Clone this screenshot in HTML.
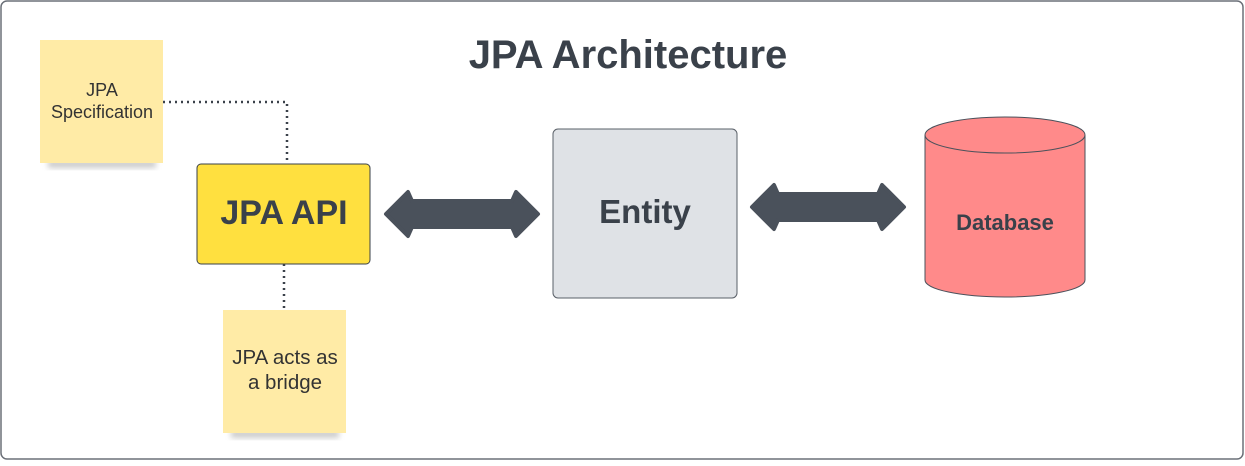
<!DOCTYPE html>
<html><head><style>
body{margin:0;background:#fff;width:1245px;height:461px;overflow:hidden;font-family:"Liberation Sans",sans-serif}
</style></head><body>
<svg width="1245" height="461" viewBox="0 0 1245 461" xmlns="http://www.w3.org/2000/svg" font-family="Liberation Sans, sans-serif">
<defs>
<filter id="sh" x="-20%" y="-20%" width="140%" height="150%"><feGaussianBlur stdDeviation="3"/></filter>
</defs>
<rect x="1" y="1" width="1242" height="458" rx="6" fill="#fff" stroke="#6b7078" stroke-width="1.5"/>
<text x="628" y="68" text-anchor="middle" font-size="40" font-weight="bold" fill="#3a414a">JPA Architecture</text>
<path d="M163 102 H287 V164" fill="none" stroke="#3a414a" stroke-width="2.5" stroke-dasharray="2 4"/>
<path d="M284 264 V310" fill="none" stroke="#3a414a" stroke-width="2.5" stroke-dasharray="2 4"/>
<rect x="48" y="160" width="108" height="8" fill="#999" opacity="0.5" filter="url(#sh)"/>
<rect x="40" y="40" width="123" height="123" fill="#ffeba6"/>
<text x="102" y="96" text-anchor="middle" font-size="18" fill="#333">JPA</text>
<text x="102" y="118" text-anchor="middle" font-size="18" fill="#333">Specification</text>
<rect x="231" y="430" width="108" height="8" fill="#999" opacity="0.5" filter="url(#sh)"/>
<rect x="223" y="310" width="123" height="123" fill="#ffeba6"/>
<text x="285" y="364" text-anchor="middle" font-size="20.5" fill="#333">JPA acts as</text>
<text x="285" y="389" text-anchor="middle" font-size="20.5" fill="#333">a bridge</text>
<rect x="197" y="164" width="173" height="100" rx="4" fill="#ffe03f" stroke="#3a414a" stroke-width="1"/>
<text x="284" y="224" text-anchor="middle" font-size="34" font-weight="bold" fill="#3a414a">JPA API</text>
<g fill="#4a515b" stroke="#4a515b" stroke-width="4" stroke-linejoin="round">
<path d="M386 214 L408 192 L412 201 L512 201 L516 192 L538 214 L516 236 L512 227 L412 227 L408 236 Z"/>
<path d="M752 207 L774 185 L778 194 L878 194 L882 185 L904 207 L882 229 L878 220 L778 220 L774 229 Z"/>
</g>
<rect x="553" y="129" width="184" height="169" rx="5" fill="#dfe2e6" stroke="#5a6068" stroke-width="1"/>
<text x="645" y="223" text-anchor="middle" font-size="33" font-weight="bold" fill="#3a414a">Entity</text>
<path d="M925 135 V280 A80 17 0 0 0 1085 280 V135" fill="#ff8a8a" stroke="#4a515b" stroke-width="1"/>
<ellipse cx="1005" cy="135" rx="80" ry="18" fill="#ff8a8a" stroke="#4a515b" stroke-width="1"/>
<text x="1005" y="230" text-anchor="middle" font-size="22" font-weight="bold" fill="#3a414a">Database</text>
</svg>
</body></html>
